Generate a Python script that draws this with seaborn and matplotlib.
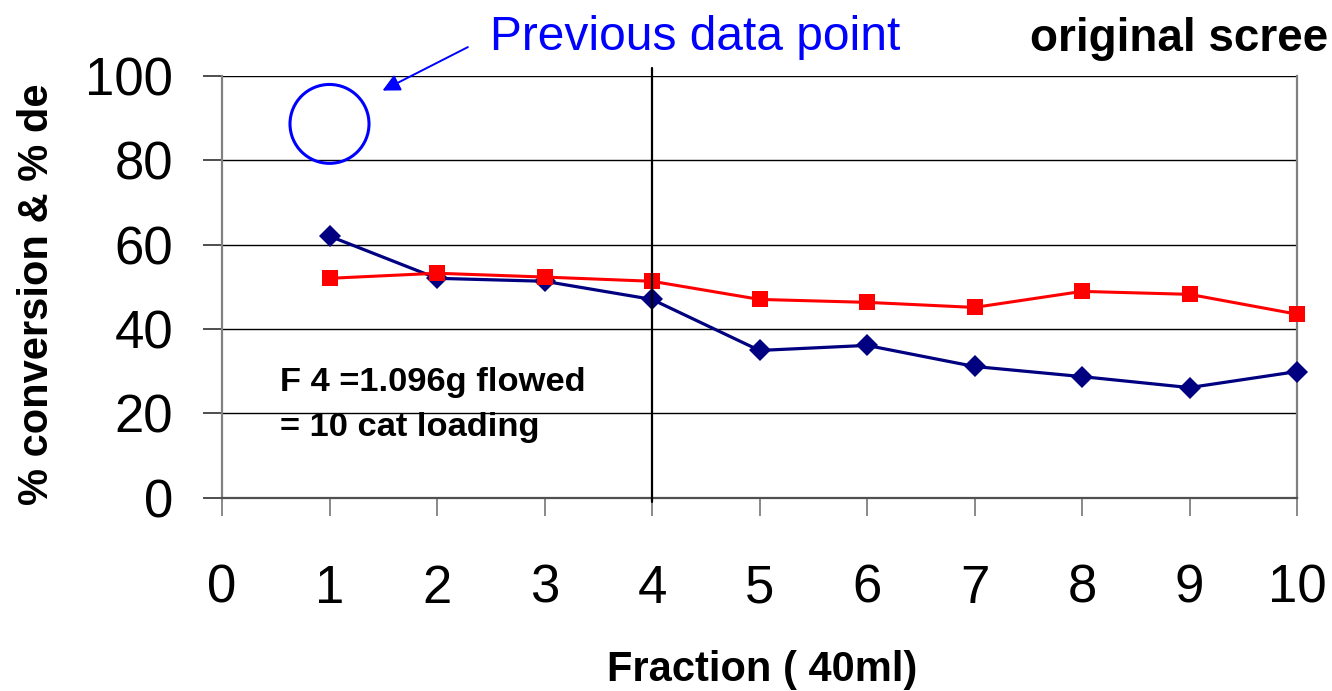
import matplotlib
matplotlib.use("Agg")
import matplotlib.pyplot as plt
from matplotlib.patches import Ellipse
import seaborn as sns
import pandas as pd

fractions = [1, 2, 3, 4, 5, 6, 7, 8, 9, 10]
conversion = [62.0, 52.0, 51.3, 47.0, 34.9, 36.1, 31.1, 28.7, 26.1, 29.9]
de = [52.0, 53.2, 52.3, 51.3, 47.0, 46.3, 45.1, 48.9, 48.2, 43.5]
x_ticks = [0, 1, 2, 3, 4, 5, 6, 7, 8, 9, 10]
y_ticks = [0, 20, 40, 60, 80, 100]
previous_point = (1, 88.6)

sns.set_theme(style="white")
plt.rcParams['font.family'] = ['Liberation Sans', 'DejaVu Sans']
plt.rcParams['text.color'] = 'black'

W, H = 1332, 691
df = pd.DataFrame({"fraction": fractions, "conversion": conversion, "de": de})

fig = plt.figure(figsize=(W / 100, H / 100), dpi=100)
ax = fig.add_axes([222 / W, 1 - 497.7 / H, (1297 - 222) / W, (497.7 - 75.8) / H])

sns.lineplot(data=df, x="fraction", y="de", ax=ax, color="#FF0000", marker="s",
             markersize=11, markeredgewidth=0, linewidth=2.2, clip_on=False, zorder=4)
sns.lineplot(data=df, x="fraction", y="conversion", ax=ax, color="#000080", marker="D",
             markersize=11, markeredgewidth=0, linewidth=2.3, clip_on=False, zorder=3)

ax.set_xlim(0, 10)
ax.set_ylim(0, 100)
ax.set_xticks(x_ticks)
ax.set_yticks(y_ticks)
ax.set_xlabel("")
ax.set_ylabel("")
for y in y_ticks[1:]:
    ax.axhline(y, color="black", linewidth=1.0, zorder=1)
ax.spines["top"].set_visible(False)
for s in ["left", "right"]:
    ax.spines[s].set_color("#808080")
    ax.spines[s].set_linewidth(1.6)
ax.spines["bottom"].set_color("#505050")
ax.spines["bottom"].set_linewidth(1.6)
ax.tick_params(axis="x", direction="out", length=13, width=1.3, color="#808080",
               pad=34.5, labelsize=38, labelcolor="black", bottom=True)
ax.tick_params(axis="y", direction="out", length=13.7, width=1.3, color="#404040",
               pad=21.5, labelsize=38, labelcolor="black", left=True)

# vertical marker line at fraction 4
ax.plot([4, 4], [-1, 101.9], color="black", linewidth=1.6, clip_on=False, zorder=5)

# previous data point circle and callout
ax.add_patch(Ellipse(previous_point, 0.735, 18.7, fill=False, edgecolor="#0000FF",
                     linewidth=2.2, clip_on=False, zorder=6))
ax.annotate("", xy=(1.47, 96.2), xytext=(2.31, 107.1),
            arrowprops=dict(arrowstyle="-|>", color="#0000FF", lw=1.4, mutation_scale=26),
            annotation_clip=False)
fig.text(490 / W, 1 - 50 / H, "Previous data point", color="#0000FF", fontsize=34.5,
         ha="left", va="baseline")
fig.text(1030 / W, 1 - 51 / H, "original scree", color="black", fontsize=33,
         fontweight="bold", ha="left", va="baseline")

ax.text(0.54, 25.3, "F 4 =1.096g flowed", fontsize=24.8, fontweight="bold",
        ha="left", va="baseline", color="black")
ax.text(0.54, 14.6, "= 10 cat loading", fontsize=24.8, fontweight="bold",
        ha="left", va="baseline", color="black")

fig.text(762 / W, 1 - 681 / H, "Fraction ( 40ml)", fontsize=30, fontweight="bold",
         ha="center", va="baseline", color="black")
fig.text(37 / W, 1 - 294 / H, "% conversion & % de", fontsize=30, fontweight="bold",
         ha="center", va="center", rotation=90, color="black")

fig.savefig("out.png", dpi=100)
